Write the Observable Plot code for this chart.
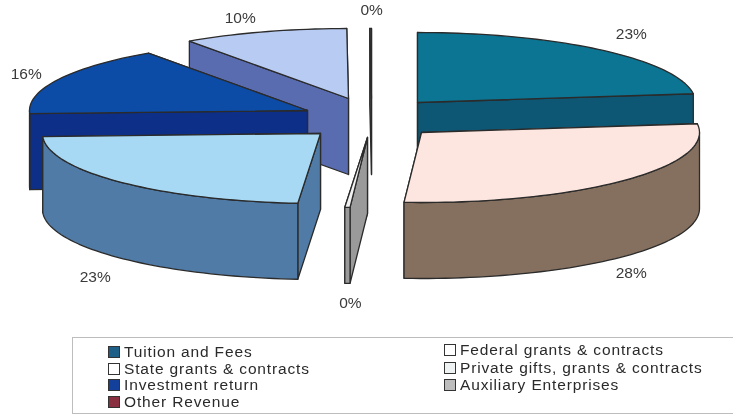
<!DOCTYPE html>
<html>
<head>
<meta charset="utf-8">
<script src="https://cdn.jsdelivr.net/npm/d3@7"></script>
<script src="https://cdn.jsdelivr.net/npm/@observablehq/plot@0.6"></script>
<style>
  html,body{margin:0;padding:0;background:#fff;}
  #chart svg{display:block;filter:blur(.45px);}
  #legend{box-sizing:border-box;position:absolute;left:72px;top:337px;width:661px;height:77px;
    border:1px solid #bdbdbd;border-right:none;font:15.5px "Liberation Sans",Arial,sans-serif;letter-spacing:.85px;color:#2a2a2a;filter:blur(.45px);}
  .item{position:absolute;white-space:nowrap;line-height:16px;}
  .sw{position:absolute;left:0;top:2px;width:10px;height:10px;border:1.5px solid #333;}
  .item span{margin-left:16px;}
</style>
</head>
<body>
<div id="chart"></div>
<div id="legend"></div>
<script>
// ---- Data (clockwise from 12 o'clock), percent of revenue
const sliceNames  = ["Tuition and Fees","Federal grants & contracts","State grants & contracts","Private gifts, grants & contracts","Investment return","Auxiliary Enterprises","Other Revenue"];
const sliceValues = [23, 28, 0.3, 23, 16, 9.6, 0.1];
const topColors   = ["#0b7593","#fde6df","#f2f2f2","#a8d9f4","#0c4ba6","#b8cbf2","#4a4a4a"];
const sideColors  = ["#0d5775","#85705f","#9a9a9a","#4f7ba6","#0e2f88","#5a6cb0","#4a4a4a"];

// ---- Legend (row order in the two columns)
const legendCols   = [["Tuition and Fees","State grants & contracts","Investment return","Other Revenue"],
                      ["Federal grants & contracts","Private gifts, grants & contracts","Auxiliary Enterprises"]];
const legendColors = {"Tuition and Fees":"#1d5f86","State grants & contracts":"#ffffff","Investment return":"#12409a","Other Revenue":"#8a2f3f",
                      "Federal grants & contracts":"#ffffff","Private gifts, grants & contracts":"#eef2f2","Auxiliary Enterprises":"#bdbdbd"};

// ---- Layout of the exploded 3-D pie (pull of each slice from the pie's hub)
const hub = [370, 115], rx = 278, ry = 70, depth = 76;
const pullX = [47, 51, -3, -50, -63, -22, 1];
const pullY = [-13, 17, 22, 18, -5, -17, -17];
const labelNudgeX = [30, 7, 3, -25, -32, -24, 1];
const labelNudgeY = [-16, 17, 20, 19, -5, -14, -18];
const H = 332;

// ---- Geometry derived from the values
const total = d3.sum(sliceValues);
let acc = 0;
const slices = sliceValues.map((v, i) => {
  const a0 = acc / total * 2 * Math.PI; acc += v;
  const a1 = acc / total * 2 * Math.PI;
  return {i, v, a0, a1, cx: hub[0] + pullX[i], cy: hub[1] + pullY[i]};
});
const px = (s, a) => s.cx + rx * Math.sin(a);
const py = (s, a, h = 0) => s.cy - ry * Math.cos(a) + h;
const arc = (a0, a1) => { const n = Math.max(2, Math.ceil((a1 - a0) / 0.03)); return d3.range(n + 1).map(k => a0 + (a1 - a0) * k / n); };

const rows = [];
function poly(id, pts, fill) {
  [...pts, pts[0]].forEach(p => rows.push({id, x: p[0], y: p[1], fill}));
}
// back-to-front: the left group, the thin slices, then the right group
[5, 4, 3, 6, 2, 0, 1].forEach(k => {
  const s = slices[k], side = sideColors[k];
  const face = a => [[s.cx, s.cy], [px(s, a), py(s, a)], [px(s, a), py(s, a, depth)], [s.cx, s.cy + depth]];
  poly(`f1-${k}`, face(s.a1), side);
  poly(`f0-${k}`, face(s.a0), side);
  const lo = Math.max(s.a0, Math.PI / 2), hi = Math.min(s.a1, 3 * Math.PI / 2);
  if (hi > lo) {
    const as = arc(lo, hi);
    poly(`r-${k}`, [...as.map(a => [px(s, a), py(s, a)]), ...as.slice().reverse().map(a => [px(s, a), py(s, a, depth)])], side);
  }
  poly(`t-${k}`, [[s.cx, s.cy], ...arc(s.a0, s.a1).map(a => [px(s, a), py(s, a)])], topColors[k]);
});

const labels = slices.map(s => {
  const m = (s.a0 + s.a1) / 2, front = Math.cos(m) < 0;
  return {
    text: d3.format(".0%")(s.v / total),
    x: px(s, m) + labelNudgeX[s.i],
    y: py(s, m, front ? depth : 0) + labelNudgeY[s.i]
  };
});

document.getElementById("chart").append(Plot.plot({
  width: 733, height: H,
  margin: 0,
  x: {domain: [0, 733], range: [0, 733], axis: null},
  y: {domain: [0, H], range: [0, H], axis: null},
  style: {background: "#fff"},
  marks: [
    Plot.line(rows, {x: "x", y: "y", z: "id", fill: "fill", stroke: "#2b2b2b", strokeWidth: 1.3, strokeLinejoin: "round"}),
    Plot.text(labels, {x: "x", y: "y", text: "text", fontSize: 15.5, fontFamily: "Liberation Sans, Arial, sans-serif", fill: "#3a3a3a", style: {letterSpacing: "1px"}})
  ]
}));

// ---- Legend
const lg = d3.select("#legend");
const colX = [35, 371], rowY = [[6, 23, 39, 56], [4, 22, 39]];
legendCols.forEach((col, c) => col.forEach((name, r) => {
  const it = lg.append("div").attr("class", "item").style("left", colX[c] + "px").style("top", rowY[c][r] + "px");
  it.append("div").attr("class", "sw").style("background", legendColors[name]);
  it.append("span").text(name);
}));
</script>
</body>
</html>
